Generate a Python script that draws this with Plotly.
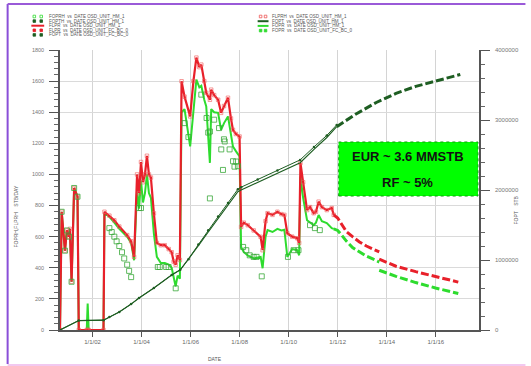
import pandas as pd
import plotly.graph_objects as go

# ---- history rates (decimal years) ----
t_hist = [2000.669, 2000.738, 2000.871, 2000.952, 2001.032, 2001.073, 2001.141, 2001.246, 2001.383,
          2001.435, 2001.760, 2001.798, 2001.840, 2002.444, 2002.484, 2002.685, 2002.887, 2003.089,
          2003.411, 2003.573, 2003.694, 2003.815, 2003.895, 2003.976, 2004.056, 2004.137, 2004.218,
          2004.298, 2004.379, 2004.500, 2004.621, 2004.782, 2004.944, 2005.105, 2005.226, 2005.306,
          2005.387, 2005.468, 2005.560, 2005.629, 2005.750, 2005.980, 2006.113, 2006.234, 2006.355,
          2006.435, 2006.556, 2006.637, 2006.786, 2006.839, 2006.960, 2007.121, 2007.242, 2007.363,
          2007.524, 2007.645, 2007.726, 2007.847, 2007.996, 2008.060, 2008.169, 2008.331, 2008.573,
          2008.855, 2008.935, 2009.056, 2009.137, 2009.339, 2009.540, 2009.702, 2009.823, 2009.944,
          2010.145, 2010.347, 2010.427, 2010.480, 2010.589, 2010.750, 2010.871, 2011.020, 2011.113,
          2011.222, 2011.355, 2011.556, 2011.758, 2011.839]
flpr_hist = [0, 760, 510, 640, 600, 650, 310, 913, 857,
             0, 0, 0, 0, 0, 760, 735, 705, 665,
             610, 570, 470, 1000, 880, 1080, 950, 1000, 1120,
             1000, 980, 750, 560, 545, 545, 520, 500, 440,
             420, 480, 450, 1599, 1500, 1373, 1600, 1751, 1690,
             1706, 1600, 1525, 1480, 1545, 1510, 1480, 1396, 1440,
             1493, 1360, 1287, 1260, 1244, 663, 690, 674, 640,
             599, 513, 700, 751, 740, 760, 745, 740, 622,
             600, 590, 560, 1074, 950, 771, 790, 751, 760,
             825, 790, 771, 784, 740]
fopr_hist = [0, 760, 510, 640, 600, 650, 310, 913, 857,
             0, 0, 170, 0, 0, 751, 728, 690, 650,
             600, 560, 448, 900, 780, 960, 820, 880, 1000,
             880, 850, 620, 470, 430, 430, 420, 400, 350,
             280, 350, 330, 1400, 1420, 1180, 1400, 1610, 1560,
             1570, 1480, 1437, 1074, 1420, 1400, 1396, 1287, 1330,
             1373, 1250, 1180, 1150, 1115, 534, 500, 480, 460,
             470, 397, 600, 642, 630, 650, 640, 645, 470,
             520, 513, 480, 986, 850, 706, 690, 674, 690,
             739, 700, 687, 655, 650]

# ---- observed oil rate (FOPRH) ----
t_foprh = [2000.738, 2000.871, 2000.952, 2001.032, 2001.141, 2001.246, 2001.383,
           2002.685, 2002.780, 2002.887, 2002.980, 2003.089, 2003.200, 2003.290, 2003.410, 2003.490, 2003.573,
           2003.895, 2003.976, 2004.660, 2004.740, 2005.000, 2005.100, 2005.390,
           2005.750, 2005.910, 2006.435, 2006.650, 2006.718, 2006.786, 2006.786, 2006.960, 2007.160,
           2007.250, 2007.320, 2007.360, 2007.390, 2007.590, 2007.730, 2007.790, 2007.860, 2007.930,
           2008.140, 2008.270, 2008.410, 2008.570, 2008.690, 2008.900, 2009.970, 2010.200, 2010.400,
           2010.870, 2011.070, 2011.270]
foprh = [760, 510, 640, 600, 310, 913, 857,
         655, 630, 600, 570, 540, 500, 460, 420, 380, 340,
         784, 784, 405, 405, 405, 405, 268,
         1330, 1240, 1513, 1363, 1269, 1276, 846, 1352, 1298,
         1161, 1029, 1226, 1212, 1161, 1085, 1050, 1083, 1053,
         534, 513, 480, 470, 470, 345, 470, 513, 513,
         674, 655, 642]

# ---- forecast rates ----
t_fc = [2011.839, 2012.000, 2012.161, 2012.363, 2012.605, 2012.887, 2013.169, 2013.452, 2013.694,
        None, 2013.694, 2014.379, 2015.185, 2015.992, 2016.919]
flpr_fc = [740, 720, 680, 631, 600, 566, 540, 520, 502, None, 455, 410, 375, 345, 308]
fopr_fc = [650, 640, 610, 570, 530, 500, 475, 455, 437, None, 384, 345, 305, 270, 235]

# ---- cumulative oil ----
t_cum = [2000.669, 2001.435, 2002.444, 2002.685, 2003.089, 2003.573, 2003.895, 2004.500, 2005.226,
         2005.577, 2005.911, 2006.315, 2006.718, 2007.121, 2007.524, 2007.927, 2008.060, 2008.734,
         2009.540, 2010.468, 2011.032, 2011.556, 2011.960]
fopt_hist = [0, 135000, 140000, 185000, 258000, 370000, 458000, 600000, 787000,
             859000, 1010000, 1205000, 1400000, 1590000, 1780000, 1975000, 2000000, 2110000,
             2240000, 2390000, 2580000, 2750000, 2905000]
fopth = [0, 135000, 140000, 185000, 258000, 370000, 458000, 600000, 787000,
         859000, 1010000, 1220000, 1425000, 1620000, 1815000, 2010000, 2040000, 2150000,
         2280000, 2430000, 2615000, 2780000, 2930000]
t_cum_fc = [2011.960, 2012.766, 2013.573, 2014.379, 2015.185, 2015.992, 2017.000]
fopt_fc = [2905000, 3090000, 3250000, 3380000, 3480000, 3560000, 3650000]

tick_dates = ["2002-01-01", "2004-01-01", "2006-01-01", "2008-01-01",
              "2010-01-01", "2012-01-01", "2014-01-01", "2016-01-01"]
tick_text = ["1/1/02", "1/1/04", "1/1/06", "1/1/08", "1/1/10", "1/1/12", "1/1/14", "1/1/16"]

RED = "#e8202a"
GREEN = "#2edc2e"
DKGREEN = "#1e5e22"
FONT = "Arial, Liberation Sans, sans-serif"


def to_dates(years):
    out = []
    for y in years:
        if y is None:
            out.append(None)
            continue
        yr = int(y)
        start = pd.Timestamp(yr, 1, 1)
        days = (pd.Timestamp(yr + 1, 1, 1) - start).days
        out.append((start + pd.Timedelta(days=(y - yr) * days)).strftime("%Y-%m-%d %H:%M"))
    return out


fig = go.Figure()

# cumulative oil on the right axis
fig.add_trace(go.Scatter(x=to_dates(t_cum), y=fopth, yaxis="y2", mode="lines+markers",
                         line=dict(color=DKGREEN, width=1), marker=dict(color=DKGREEN, size=2.5)))
fig.add_trace(go.Scatter(x=to_dates(t_cum), y=fopt_hist, yaxis="y2", mode="lines",
                         line=dict(color=DKGREEN, width=1.2)))
fig.add_trace(go.Scatter(x=to_dates(t_cum_fc), y=fopt_fc, yaxis="y2", mode="lines",
                         line=dict(color=DKGREEN, width=3, dash="8px,3px")))

# rates on the left axis
fig.add_trace(go.Scatter(x=to_dates(t_hist), y=fopr_hist, mode="lines",
                         line=dict(color=GREEN, width=2)))
fig.add_trace(go.Scatter(x=to_dates(t_hist), y=flpr_hist, mode="lines+markers",
                         line=dict(color=RED, width=2.2),
                         marker=dict(symbol="square-open", size=3.5, color="rgba(240,90,90,0.6)",
                                     line=dict(width=1))))
fig.add_trace(go.Scatter(x=to_dates(t_foprh), y=foprh, mode="markers",
                         marker=dict(symbol="square-open", size=5, color="#3aa83a",
                                     line=dict(width=0.8))))
fig.add_trace(go.Scatter(x=to_dates(t_fc), y=flpr_fc, mode="lines", connectgaps=False,
                         line=dict(color=RED, width=3, dash="8px,3px")))
fig.add_trace(go.Scatter(x=to_dates(t_fc), y=fopr_fc, mode="lines", connectgaps=False,
                         line=dict(color=GREEN, width=3, dash="8px,3px")))

# ---- pixel helpers for decorations ----
L, R, T, B = 60, 47, 50, 36
W, H = 531, 366
PW, PH = W - L - R, H - T - B


def px(x):
    return (x - L) / PW


def py(y):
    return (H - B - y) / PH


shapes = []
annotations = []


def label(x, y, text, size, color="#555", xanchor="center", angle=0, bold=False):
    annotations.append(dict(xref="paper", yref="paper", x=px(x), y=py(y), xanchor=xanchor,
                            yanchor="middle", text=f"<b>{text}</b>" if bold else text,
                            textangle=angle, showarrow=False,
                            font=dict(family=FONT, size=size, color=color)))


# page frame
shapes.append(dict(type="line", xref="paper", yref="paper", x0=px(7), x1=px(7), y0=py(4), y1=py(364),
                   line=dict(color="#8a4fd8", width=2)))
shapes.append(dict(type="line", xref="paper", yref="paper", x0=px(7), x1=px(531), y0=py(4), y1=py(4),
                   line=dict(color="#9a5ad8", width=2)))
shapes.append(dict(type="line", xref="paper", yref="paper", x0=px(7), x1=px(531), y0=py(365), y1=py(365),
                   line=dict(color="#f2c8f0", width=2)))

# EUR box
shapes.append(dict(type="rect", xref="paper", yref="paper", x0=px(342), x1=px(483), y0=py(196), y1=py(142),
                   fillcolor="#00ff00", line=dict(color="#119911", width=1, dash="dot"), layer="above"))
label(412, 156, "EUR ~ 3.6 MMSTB", 13, "#111", bold=True)
label(412, 182, "RF ~ 5%", 13, "#111", bold=True)

# legend block
legend_left = [
    ("sq", GREEN, "FOPRH  vs  DATE OSD_UNIT_HM_1"),
    ("dot", DKGREEN, "FOPTH  vs  DATE OSD_UNIT_HM_1"),
    ("line", RED, "FLPR  vs  DATE OSD_UNIT_HM_1"),
    ("dot", RED, "FLPR  vs  DATE OSD_UNIT_FC_BC_0"),
    ("dot", DKGREEN, "FOPT  vs  DATE OSD_UNIT_FC_BC_0"),
]
legend_right = [
    ("sq", "#ee5555", "FLPRH  vs  DATE OSD_UNIT_HM_1"),
    ("line", DKGREEN, "FOPT  vs  DATE OSD_UNIT_HM_1"),
    ("line", GREEN, "FOPR  vs  DATE OSD_UNIT_HM_1"),
    ("dot", GREEN, "FOPR  vs  DATE OSD_UNIT_FC_BC_0"),
]


def add_legend(items, x_sym0, x_sym1, x_text, y0, dy):
    for i, (kind, col, text) in enumerate(items):
        y = y0 + i * dy
        if kind == "line":
            shapes.append(dict(type="line", xref="paper", yref="paper", x0=px(x_sym0), x1=px(x_sym1),
                               y0=py(y), y1=py(y), line=dict(color=col, width=2)))
        else:
            for xc in (x_sym0 + 3, x_sym1 - 3):
                shapes.append(dict(type="rect", xref="paper", yref="paper",
                                   x0=px(xc - 1.3), x1=px(xc + 1.3), y0=py(y - 1.3), y1=py(y + 1.3),
                                   fillcolor=col if kind == "dot" else "rgba(0,0,0,0)",
                                   line=dict(color=col, width=0.8)))
        label(x_text, y, text, 4.5, "#555", xanchor="left")


add_legend(legend_left, 31, 44, 47, 16.5, 4.6)
add_legend(legend_right, 260, 271, 273, 16.5, 4.7)

# axis titles
label(217, 359, "DATE", 5)
label(15, 216, "FOPRH,FLPRH    STB/DAY", 5, angle=-90)
label(521, 210, "FOPT    STB", 5, angle=-90)

fig.update_layout(
    width=W, height=H,
    margin=dict(l=L, r=R, t=T, b=B),
    paper_bgcolor="white", plot_bgcolor="white",
    showlegend=False,
    font=dict(family=FONT),
    shapes=shapes, annotations=annotations,
    xaxis=dict(type="date", range=["2000-09-02", "2017-10-07"],
               tickvals=tick_dates, ticktext=tick_text,
               showgrid=True, gridcolor="#d4d4d4", gridwidth=1,
               showline=True, linecolor="#555", linewidth=1.5,
               ticks="outside", ticklen=5, tickcolor="#555",
               tickfont=dict(size=6, color="#666"), zeroline=False),
    yaxis=dict(range=[0, 1800], tick0=0, dtick=200,
               showgrid=True, gridcolor="#dadada", gridwidth=1,
               showline=True, linecolor="#555", linewidth=1.5,
               ticks="outside", ticklen=9, tickcolor="#555",
               minor=dict(dtick=40, ticks="outside", ticklen=4, tickcolor="#666", showgrid=False),
               tickfont=dict(size=5.5, color="#777"), zeroline=False, ticklabelstandoff=4),
    yaxis2=dict(range=[0, 4000000], tick0=0, dtick=1000000, overlaying="y", side="right",
                showgrid=False, tickformat="d",
                showline=True, linecolor="#555", linewidth=1.5,
                ticks="outside", ticklen=9, tickcolor="#555",
                minor=dict(dtick=200000, ticks="outside", ticklen=4, tickcolor="#666", showgrid=False),
                tickfont=dict(size=6, color="#777"), zeroline=False, ticklabelstandoff=4),
)

fig.write_html("out.html")
